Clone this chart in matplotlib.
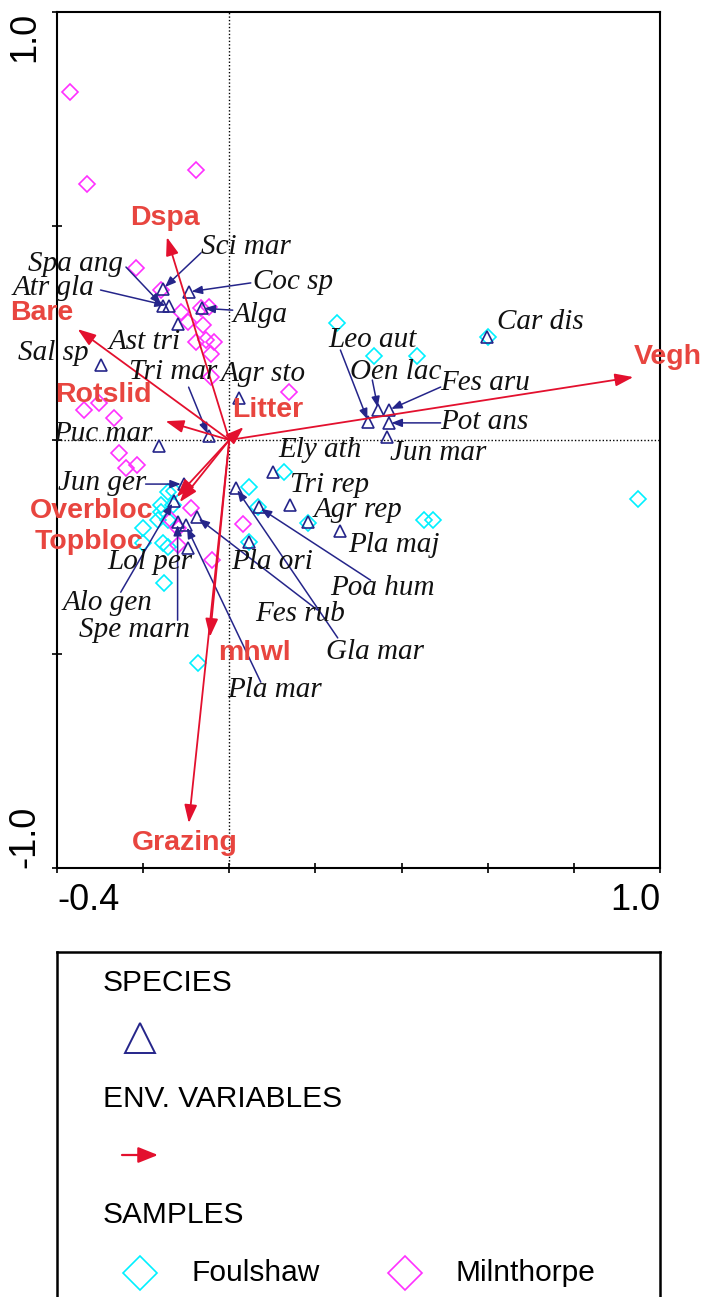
import matplotlib
matplotlib.use("Agg")
import matplotlib.pyplot as plt

plt.rcParams['font.family'] = ['Liberation Sans', 'DejaVu Sans']

#########################################################################
# scores (axis 1, axis 2)

species = ['Sci mar', 'Coc sp', 'Spa ang', 'Atr gla', 'Alga', 'Ast tri',
           'Sal sp', 'Tri mar', 'Agr sto', 'Puc mar', 'Ely ath', 'Jun ger',
           'Tri rep', 'Agr rep', 'Pla maj', 'Lol per', 'Pla ori', 'Poa hum',
           'Alo gen', 'Fes rub', 'Spe marn', 'Gla mar', 'Pla mar', 'Leo aut',
           'Oen lac', 'Fes aru', 'Pot ans', 'Jun mar', 'Car dis']
spec_x = [-0.154, -0.094, -0.154, -0.141, -0.064, -0.120,
          -0.298, -0.048, 0.022, -0.164, 0.101, -0.106,
          0.142, 0.182, 0.258, -0.097, 0.045, 0.068,
          -0.129, -0.076, -0.120, 0.015, -0.101, 0.323,
          0.346, 0.370, 0.370, 0.367, 0.599]
spec_y = [0.353, 0.346, 0.313, 0.313, 0.308, 0.271,
          0.175, 0.009, 0.098, -0.014, -0.075, -0.103,
          -0.152, -0.192, -0.213, -0.252, -0.238, -0.157,
          -0.143, -0.180, -0.192, -0.112, -0.199, 0.042,
          0.070, 0.070, 0.040, 0.007, 0.241]

env_names = ['Vegh', 'Grazing', 'mhwl', 'Dspa', 'Bare', 'Rotslid',
             'Litter', 'Overbloc', 'Topbloc']
env_x = [0.938, -0.094, -0.045, -0.145, -0.352, -0.148, 0.033, -0.122, -0.115]
env_y = [0.147, -0.895, -0.460, 0.474, 0.259, 0.044, 0.030, -0.133, -0.145]

# samples, Foulshaw
foul_x = [0.249, 0.337, 0.435, 0.600, 0.950, 0.453, 0.474, 0.126, 0.045,
          0.066, 0.182, 0.045, -0.143, -0.129, -0.159, -0.159, -0.131,
          -0.143, -0.166, -0.201, -0.201, -0.155, -0.143, -0.152, -0.073]
foul_y = [0.273, 0.196, 0.196, 0.241, -0.138, -0.187, -0.187, -0.075, -0.110,
          -0.157, -0.194, -0.238, -0.121, -0.119, -0.152, -0.168, -0.152,
          -0.187, -0.187, -0.206, -0.241, -0.241, -0.250, -0.334, -0.521]

# samples, Milnthorpe
miln_x = [-0.370, -0.331, -0.078, -0.217, -0.159, -0.113, -0.066, -0.048,
          -0.097, -0.062, -0.078, -0.055, -0.036, -0.043, -0.043, 0.138,
          -0.338, -0.303, -0.268, -0.257, -0.240, -0.215, -0.090, -0.136,
          -0.120, -0.120, -0.039, 0.031]
miln_y = [0.813, 0.598, 0.631, 0.402, 0.350, 0.299, 0.308, 0.311,
          0.276, 0.269, 0.229, 0.234, 0.229, 0.201, 0.147, 0.112,
          0.070, 0.086, 0.051, -0.030, -0.065, -0.058, -0.159, -0.187,
          -0.206, -0.245, -0.280, -0.196]

x_ticks = [-0.4, -0.2, 0.0, 0.2, 0.4, 0.6, 0.8, 1.0]
x_ticklabels = ['-0.4', '', '', '', '', '', '', '1.0']
y_ticks = [-1.0, -0.5, 0.0, 0.5, 1.0]
y_ticklabels = ['-1.0', '', '', '', '1.0']

#########################################################################
# label placement (offset pixels from the symbol), optional leader start

spec_label_off = {
    'Sci mar': (38, 42), 'Coc sp': (64, 10), 'Spa ang': (-135, 42),
    'Atr gla': (-156, 18), 'Alga': (31, -7), 'Ast tri': (-69, -18),
    'Sal sp': (-83, 12), 'Tri mar': (-80, 64), 'Agr sto': (-18, 24),
    'Puc mar': (-105, 12), 'Ely ath': (6, 22), 'Jun ger': (-126, 1),
    'Tri rep': (0, 20), 'Agr rep': (6, 12), 'Pla maj': (8, -14),
    'Lol per': (-80, -14), 'Pla ori': (-18, -20), 'Poa hum': (72, -81),
    'Alo gen': (-111, -102), 'Fes rub': (59, -97), 'Spe marn': (-99, -108),
    'Gla mar': (90, -164), 'Pla mar': (41, -165), 'Leo aut': (-40, 82),
    'Oen lac': (-28, 38), 'Fes aru': (52, 27), 'Pot ans': (52, 1),
    'Jun mar': (3, -16), 'Car dis': (10, 15),
}
spec_leader = {
    'Sci mar': (38, 36), 'Coc sp': (62, 9), 'Spa ang': (-37, 39),
    'Atr gla': (-68, 16), 'Alga': (31, -2), 'Tri mar': (-20, 49),
    'Jun ger': (-38, 0), 'Poa hum': (112, -73), 'Alo gen': (-53, -91),
    'Fes rub': (121, -93), 'Spe marn': (0, -98), 'Gla mar': (102, -150),
    'Pla mar': (75, -157), 'Leo aut': (-28, 72), 'Oen lac': (-6, 30),
    'Fes aru': (52, 23), 'Pot ans': (52, 0),
}
env_label_off = {
    'Vegh': (35, 20), 'Grazing': (-4, -20), 'mhwl': (45, -16),
    'Dspa': (-2, 19), 'Bare': (-36, 16), 'Rotslid': (-62, 26),
    'Litter': (24, 17), 'Overbloc': (-85, -14), 'Topbloc': (-91, -40),
}

navy = '#25258a'
red_arrow = '#e3102e'
red_text = '#e8453f'
cyan = '#00f0ff'
magenta = '#ff30ff'

#########################################################################

fig = plt.figure(figsize=(7.05, 12.97), dpi=100)
ax = fig.add_axes([57 / 705, 429 / 1297, 603 / 705, 856 / 1297])

ax.set_xlim(-0.4, 1.0)
ax.set_ylim(-1.0, 1.0)

ax.axhline(0, color='k', ls=(0, (1, 1.5)), lw=1.0, zorder=1)
ax.axvline(0, color='k', ls=(0, (1, 1.5)), lw=1.0, zorder=1)

# samples
ax.plot(foul_x, foul_y, ls='none', marker='D', ms=8, mfc='none',
        mec=cyan, mew=1.2, zorder=2)
ax.plot(miln_x, miln_y, ls='none', marker='D', ms=8, mfc='none',
        mec=magenta, mew=1.2, zorder=2)

# species
ax.plot(spec_x, spec_y, ls='none', marker='^', ms=9, mfc='none',
        mec=navy, mew=1.2, zorder=3)

for name, sx, sy in zip(species, spec_x, spec_y):
    dx, dy = spec_label_off[name]
    ax.annotate(name, xy=(sx, sy), xytext=(dx, dy), textcoords='offset pixels',
                ha='left', va='center', fontsize=21, color='#111111',
                family='Liberation Serif', style='italic', zorder=5)
    if name in spec_leader:
        lx, ly = spec_leader[name]
        ax.annotate('', xy=(sx, sy), xytext=(lx, ly), textcoords='offset pixels',
                    arrowprops=dict(arrowstyle='-|>,head_length=0.9,head_width=0.35',
                                    color=navy, lw=1.1, mutation_scale=7,
                                    shrinkA=0, shrinkB=2),
                    zorder=4)

# environmental variables
for name, ex, ey in zip(env_names, env_x, env_y):
    ax.annotate('', xy=(ex, ey), xytext=(0, 0),
                arrowprops=dict(arrowstyle='-|>,head_length=1.0,head_width=0.35',
                                color=red_arrow, lw=1.3, mutation_scale=11,
                                shrinkA=0, shrinkB=0),
                zorder=4)
    dx, dy = env_label_off[name]
    ax.annotate(name, xy=(ex, ey), xytext=(dx, dy), textcoords='offset pixels',
                ha='center', va='center', fontsize=20.5, fontweight='bold',
                color=red_text, zorder=6)

# axes frame and ticks
for sp in ax.spines.values():
    sp.set_linewidth(1.5)
ax.set_xticks(x_ticks, x_ticklabels)
ax.set_yticks(y_ticks, y_ticklabels)
ax.tick_params(direction='inout', length=7, width=1.2, labelsize=26, pad=7)
xl = ax.get_xticklabels()
xl[0].set_ha('left')
xl[-1].set_ha('right')
for lab in ax.get_yticklabels():
    lab.set_rotation(90)
yl = ax.get_yticklabels()
yl[0].set_va('bottom')
yl[-1].set_va('top')

#########################################################################
# legend box (cut by the bottom of the picture)

leg = fig.add_axes([57 / 705, -0.02, 603 / 705, (1297 - 952) / 1297 + 0.02])
leg.set_xlim(57, 660)
leg.set_ylim(1297 * 1.02, 952)
leg.set_xticks([])
leg.set_yticks([])
for sp in leg.spines.values():
    sp.set_linewidth(1.8)

leg.text(103, 983, 'SPECIES', fontsize=21.5, va='center', ha='left')
leg.plot([140], [1038], marker='^', ms=21, mfc='none', mec=navy, mew=1.4)
leg.text(103, 1099, 'ENV. VARIABLES', fontsize=21.5, va='center', ha='left')
leg.annotate('', xy=(158, 1155), xytext=(122, 1155),
             arrowprops=dict(arrowstyle='-|>,head_length=1.0,head_width=0.4',
                             color=red_arrow, lw=1.6, mutation_scale=12,
                             shrinkA=0, shrinkB=0))
leg.text(103, 1215, 'SAMPLES', fontsize=21.5, va='center', ha='left')
leg.plot([140], [1273], marker='D', ms=17, mfc='none', mec=cyan, mew=1.2)
leg.text(192, 1273, 'Foulshaw', fontsize=21.5, va='center', ha='left')
leg.plot([405], [1273], marker='D', ms=17, mfc='none', mec=magenta, mew=1.2)
leg.text(455, 1273, 'Milnthorpe', fontsize=21.5, va='center', ha='left')

fig.savefig('out.png', dpi=100)
